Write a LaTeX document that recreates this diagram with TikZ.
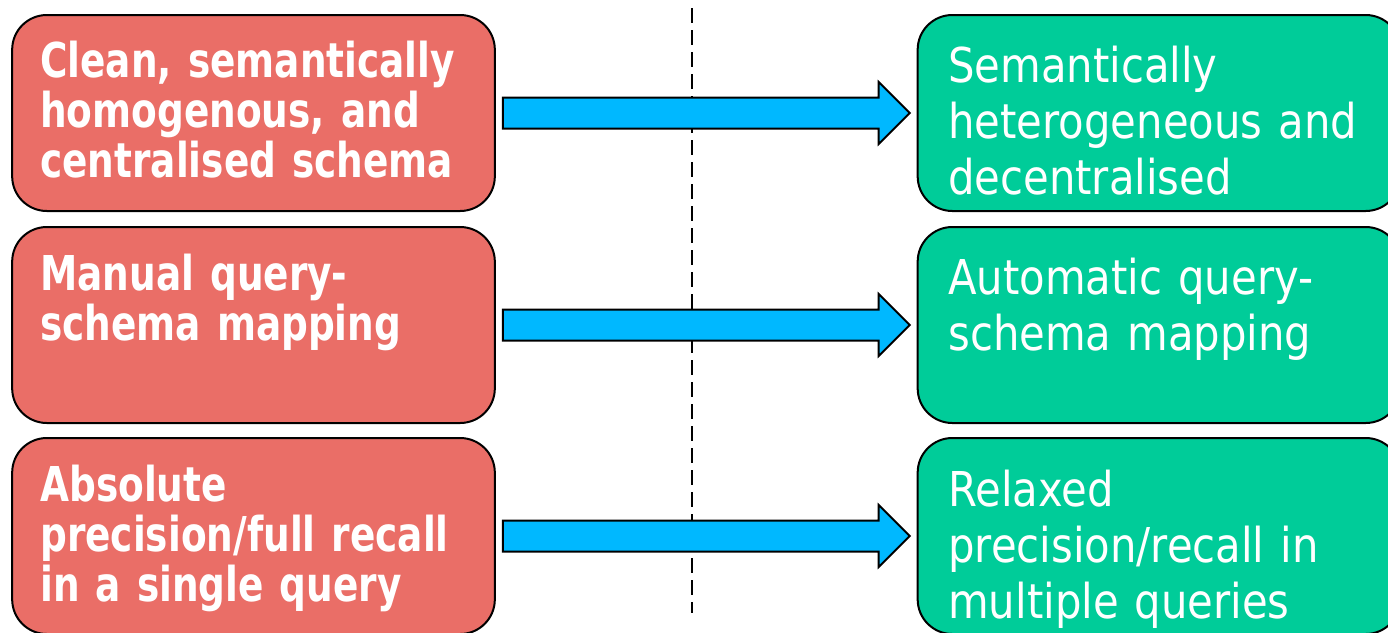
\documentclass[tikz,border=0pt]{standalone}
\usepackage{fontspec}
\usetikzlibrary{calc}
\newfontfamily\leftfont{DejaVu Sans}[FakeStretch=0.78]
\newfontfamily\rightfont{DejaVu Sans}[FakeStretch=0.87]
\definecolor{salmon}{RGB}{234,110,103}
\definecolor{mint}{RGB}{0,204,153}
\definecolor{sky}{RGB}{0,184,255}
\tikzset{
  box/.style={draw=black, line width=1.5pt, rounded corners=26pt,
    minimum width=362pt, minimum height=147pt, inner sep=0pt},
  oldbox/.style={box, fill=salmon},
  newbox/.style={box, fill=mint},
  oldtext/.style={anchor=base west, inner sep=0pt, text=white, align=left,
    text width=345pt, font=\leftfont\bfseries\fontsize{36pt}{37.5pt}\selectfont},
  newtext/.style={anchor=base west, inner sep=0pt, text=white, align=left,
    text width=345pt, font=\rightfont\fontsize{36pt}{42pt}\selectfont},
  blockarrow/.style={draw=black, line width=1.5pt, fill=sky, line join=miter},
  divider/.style={draw=black, line width=1.5pt, dash pattern=on 11.25pt off 5.25pt}
}
% block arrow from the east side of #1 to the west side of #2
\newcommand\flowarrow[2]{%
  \draw[blockarrow]
    ($(#1.east)+(7,-15.5)$) -- ($(#2.west)+(-38,-15.5)$) --
    ($(#2.west)+(-38,-31)$) -- ($(#2.west)+(-7,0)$) --
    ($(#2.west)+(-38,31)$) -- ($(#2.west)+(-38,15.5)$) --
    ($(#1.east)+(7,15.5)$) -- cycle;}
\begin{document}
\begin{tikzpicture}[x=0.75pt, y=-0.75pt]
  \useasboundingbox (0,0) rectangle (1388,632);

  % vertical divider
  \coordinate (dtop) at (692,8);
  \coordinate (dbot) at (692,613);
  \draw[divider] (dtop) -- (dbot);

  % current situation (left column)
  \node[oldbox] (l1) at (253.5,113) {};
  \node[oldbox] (l2) at (253.5,325) {};
  \node[oldbox] (l3) at (253.5,536) {};

  % target situation (right column)
  \node[newbox] (r1) at (1159,113) {};
  \node[newbox] (r2) at (1159,325) {};
  \node[newbox] (r3) at (1159,536) {};

  \node[oldtext] (lt1) at (40,77) {Clean, semantically\\homogenous, and\\centralised schema};
  \node[oldtext] (lt2) at (40,290) {Manual query-\\schema mapping};
  \node[oldtext] (lt3) at (40,501) {Absolute\\precision/full recall\\in a single query};

  \node[newtext] (rt1) at (948,82) {Semantically\\heterogeneous and\\decentralised};
  \node[newtext] (rt2) at (948,294) {Automatic query-\\schema mapping};
  \node[newtext] (rt3) at (948,506) {Relaxed\\precision/recall in\\multiple queries};

  \flowarrow{l1}{r1}
  \flowarrow{l2}{r2}
  \flowarrow{l3}{r3}
\end{tikzpicture}
\end{document}
